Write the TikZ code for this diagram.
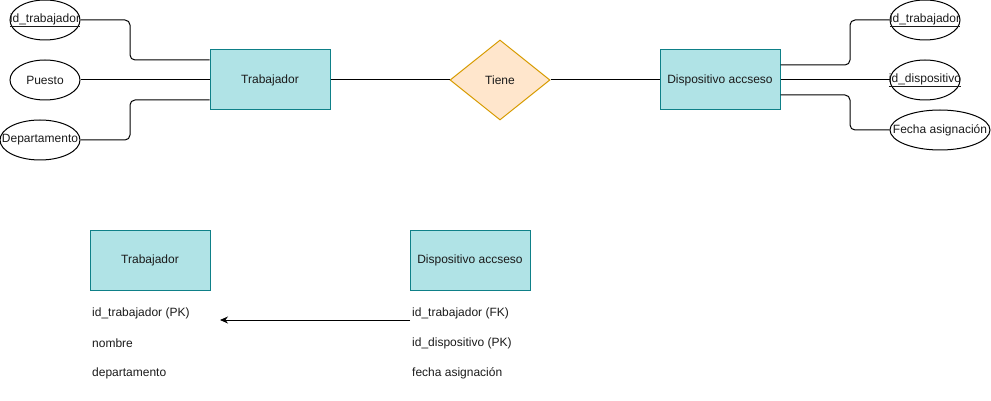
\documentclass[tikz,border=0pt]{standalone}
\usepackage{fontspec}
\setmainfont{Liberation Sans}
\usetikzlibrary{shapes.geometric,arrows.meta}
\definecolor{entfill}{HTML}{B0E3E6}
\definecolor{entdraw}{HTML}{0E8088}
\definecolor{relfill}{HTML}{FFE6CC}
\definecolor{reldraw}{HTML}{D79B00}
\definecolor{txt}{HTML}{1A1A1A}
\tikzset{
  every node/.style={font=\fontsize{12}{14}\selectfont, text=txt},
  entity/.style={draw=entdraw, fill=entfill, line width=1pt, minimum width=120pt, minimum height=60pt, inner sep=0pt},
  rel/.style={diamond, draw=reldraw, fill=relfill, line width=1pt, minimum width=100pt, minimum height=80pt, inner sep=0pt, aspect=1.25},
  attr/.style={ellipse, draw=black, line width=1pt, minimum height=40pt, inner sep=0pt},
  conn/.style={draw=black, line width=1pt, rounded corners=5pt},
  field/.style={anchor=west, inner sep=0pt},
}
\begin{document}
\begin{tikzpicture}[x=1pt,y=-1pt]
\useasboundingbox (0,0) rectangle (991,401);
% top left entity
\node[entity] (trab) at (270,80) {Trabajador};
\node[rel] (tiene) at (500,80) {Tiene};
\node[entity] (disp) at (720,80) {Dispositivo accseso};
% left attributes
\node[attr, minimum width=70pt] (a1) at (45,20) {};
\node at (a1) {\underline{id\_trabajador}};
\node[attr, minimum width=70pt] (a2) at (45,80) {};
\node at (a2) {Puesto};
\node[attr, minimum width=80pt] (a3) at (40,140) {};
\node at (a3) {Departamento};
% right attributes
\node[attr, minimum width=70pt] (b1) at (925,20) {};
\node at (b1) {\underline{id\_trabajador}};
\node[attr, minimum width=70pt] (b2) at (925,80) {};
\node at (b2) {\underline{id\_dispositivo}};
\node[attr, minimum width=100pt] (b3) at (940,130) {};
\node at (b3) {Fecha asignación};
% connectors left
\draw[conn] (a1.east) -- (130,20) -- (130,60) -- (trab.west |- 0,60);
\draw[conn] (a2.east) -- (trab.west);
\draw[conn] (a3.east) -- (130,140) -- (130,100) -- (trab.west |- 0,100);
% relationship
\draw[conn] (trab.east) -- (tiene.west);
\draw[conn] (tiene.east) -- (disp.west);
% connectors right
\draw[conn] (disp.east |- 0,65) -- (850,65) -- (850,20) -- (b1.west);
\draw[conn] (disp.east) -- (b2.west);
\draw[conn] (disp.east |- 0,95) -- (850,95) -- (850,130) -- (b3.west);
% bottom tables
\node[entity] (t2) at (150,260) {Trabajador};
\node[entity] (d2) at (470,260) {Dispositivo accseso};
\node[field] (f1) at (92,313) {id\_trabajador (PK)};
\node[field] (f2) at (92,343) {nombre};
\node[field] (f3) at (92,373) {departamento};
\node[field] (g1) at (412,313) {id\_trabajador (FK)};
\node[field] (g2) at (412,343) {id\_dispositivo (PK)};
\node[field] (g3) at (412,373) {fecha asignación};
\coordinate (fkstart) at (410,320);
\coordinate (pkend) at (220,320);
\draw[line width=1pt, -{Stealth[length=8pt,width=7pt]}] (fkstart) -- (pkend);
\end{tikzpicture}
\end{document}
